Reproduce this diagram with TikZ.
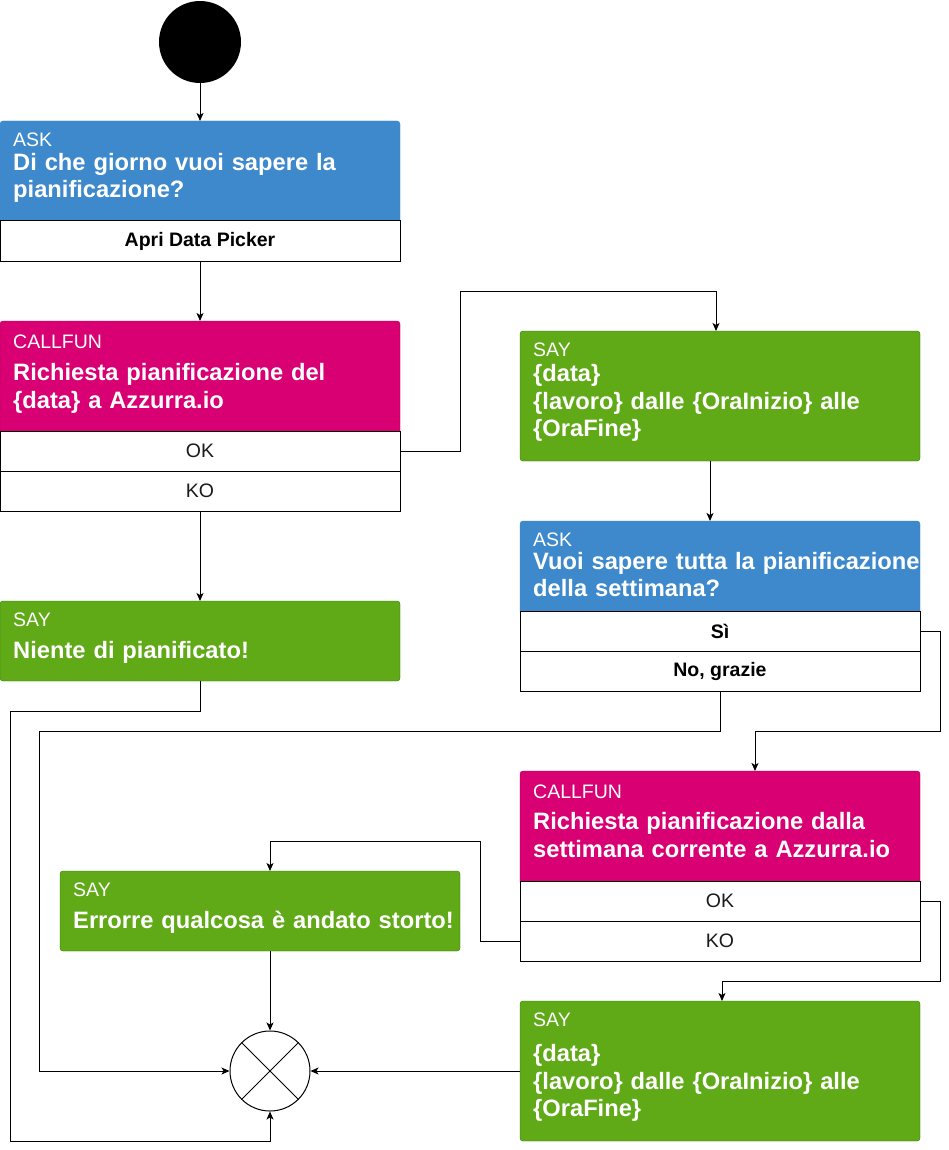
\documentclass[tikz,border=0pt]{standalone}
\usepackage{fontspec}
\setmainfont{Liberation Sans}
\usetikzlibrary{arrows.meta, positioning}
\definecolor{askblue}{HTML}{3D89CC}
\definecolor{callmag}{HTML}{D80073}
\definecolor{callmagline}{HTML}{A50040}
\definecolor{saygreen}{HTML}{60A917}
\definecolor{saygreenline}{HTML}{2D7600}
\definecolor{optgray}{HTML}{1A1A1A}

\begin{document}
\begin{tikzpicture}[x=1pt, y=-1pt,
    hdr/.style={rectangle, rounded corners=3pt, minimum width=400pt, inner sep=0pt, outer sep=0pt, anchor=north west},
    askhdr/.style={hdr, fill=askblue, draw=askblue},
    callhdr/.style={hdr, fill=callmag, draw=callmagline},
    sayhdr/.style={hdr, fill=saygreen, draw=saygreenline},
    opt/.style={rectangle, draw, fill=white, line width=1pt, minimum width=400pt, minimum height=40pt, inner sep=0pt, outer sep=0pt, anchor=north west, font=\fontsize{19.5}{23}\selectfont},
    optbold/.style={opt, font=\fontsize{19.5}{23}\selectfont\bfseries},
    tag/.style={anchor=base west, inner sep=0pt, text=white, font=\fontsize{19.5}{23}\selectfont},
    title/.style={anchor=base west, inner sep=0pt, text=white, text width=420pt, align=left, font=\fontsize{23.7}{27.5}\selectfont\bfseries},
    conn/.style={-{Stealth[length=8pt, width=7pt, inset=2pt]}, line width=1pt}]
    \useasboundingbox (0,0) rectangle (949,1150);

    % start and merge
    \node[circle, fill=black, minimum size=82pt, inner sep=0pt] (start) at (200,42) {};
    \node[circle, draw, line width=1pt, minimum size=80pt, inner sep=0pt] (merge) at (270,1071) {};
    \draw[line width=0.8pt] (merge.north west) -- (merge.south east);
    \draw[line width=0.8pt] (merge.north east) -- (merge.south west);

    % ask data
    \node[askhdr, minimum height=104pt] (ask1) at (0,121) {};
    \node[optbold] (ask1pick) at (0,221) {Apri Data Picker};
    \node[tag] (ask1tag) at (13,146.7) {ASK};
    \node[title, font=\fontsize{23.7}{26.3}\selectfont\bfseries] (ask1txt) at (13,171) {Di che giorno vuoi sapere la\\pianificazione?};

    % callfun giorno
    \node[callhdr, minimum height=114pt] (call1) at (0,321) {};
    \node[opt, text=optgray] (call1ok) at (0,431) {OK};
    \node[opt, text=optgray] (call1ko) at (0,471) {KO};
    \node[tag] (call1tag) at (13,348) {CALLFUN};
    \node[title, font=\fontsize{23.7}{28}\selectfont\bfseries] (call1txt) at (13,380) {Richiesta pianificazione del\\\{data\} a Azzurra.io};

    % say giorno
    \node[sayhdr, minimum height=130pt] (say1) at (520,331) {};
    \node[tag] (say1tag) at (533,356.7) {SAY};
    \node[title] (say1txt) at (533,381.7) {\{data\}\\\{lavoro\} dalle \{OraInizio\} alle\\\{OraFine\}};

    % say niente
    \node[sayhdr, minimum height=80pt] (niente) at (0,601) {};
    \node[tag] (nientetag) at (13,626.7) {SAY};
    \node[title] (nientetxt) at (13,658) {Niente di pianificato!};

    % ask settimana
    \node[askhdr, minimum height=94pt] (ask2) at (520,521) {};
    \node[optbold] (ask2si) at (520,611) {Sì};
    \node[optbold] (ask2no) at (520,651) {No, grazie};
    \node[tag] (ask2tag) at (533,546.7) {ASK};
    \node[title] (ask2txt) at (533,569) {Vuoi sapere tutta la pianificazione\\della settimana?};

    % callfun settimana
    \node[callhdr, minimum height=114pt] (call2) at (520,771) {};
    \node[opt, text=optgray] (call2ok) at (520,881) {OK};
    \node[opt, text=optgray] (call2ko) at (520,921) {KO};
    \node[tag] (call2tag) at (533,798) {CALLFUN};
    \node[title, font=\fontsize{23.7}{28}\selectfont\bfseries] (call2txt) at (533,829) {Richiesta pianificazione dalla\\settimana corrente a Azzurra.io};

    % say errore
    \node[sayhdr, minimum height=80pt] (err) at (60,871) {};
    \node[tag] (errtag) at (73,896.7) {SAY};
    \node[title] (errtxt) at (73,928.3) {Errorre qualcosa è andato storto!};

    % say settimana
    \node[sayhdr, minimum height=140pt] (say3) at (520,1001) {};
    \node[tag] (say3tag) at (533,1026.7) {SAY};
    \node[title] (say3txt) at (533,1061.7) {\{data\}\\\{lavoro\} dalle \{OraInizio\} alle\\\{OraFine\}};

    % connectors
    \draw[conn] (start.south) -- (ask1.north);
    \draw[conn] (ask1pick.south) -- (call1.north);
    \draw[conn] (call1ok.east) -- ++(60,0) |- ([xshift=-4pt, yshift=40pt]say1.north) -- ([xshift=-4pt]say1.north);
    \draw[conn] (call1ko.south) -- (niente.north);
    \draw[conn] ([xshift=-10pt]say1.south) -- ([xshift=-10pt]ask2.north);
    \draw[conn] (ask2si.east) -- ++(20,0) |- ([xshift=35pt, yshift=40pt]call2.north) -- ([xshift=35pt]call2.north);
    \draw[conn] (ask2no.south) -- ++(0,40) -| ([xshift=-190pt]merge.west) -- (merge.west);
    \draw[conn] (niente.south) -- ++(0,30) -- ++(-190,0) |- ([yshift=-30pt]merge.south) -- (merge.south);
    \draw[conn] (call2ok.east) -- ++(20,0) |- ([xshift=2pt, yshift=20pt]say3.north) -- ([xshift=2pt]say3.north);
    \draw[conn] (call2ko.west) -- ++(-40,0) |- ([xshift=10pt, yshift=30pt]err.north) -- ([xshift=10pt]err.north);
    \draw[conn] ([xshift=10pt]err.south) -- (merge.north);
    \draw[conn] (say3.west) -- (merge.east);
\end{tikzpicture}
\end{document}
